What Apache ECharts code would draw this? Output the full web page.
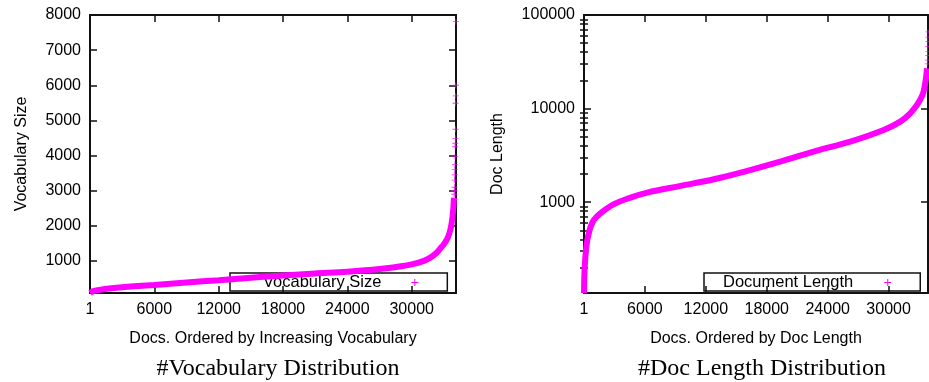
<!DOCTYPE html>
<html>
<head>
<meta charset="utf-8">
<script src="https://cdn.jsdelivr.net/npm/echarts@6/dist/echarts.min.js"></script>
<style>
  html, body { margin: 0; padding: 0; background: #fff; }
  #chart { width: 929px; height: 382px; }
</style>
</head>
<body>
<div id="chart"></div>
<script>
// left panel: docs ordered by vocabulary size
const vocabDocs     = [1, 300, 1000, 2000, 3000, 4500, 6000, 9000, 12000, 15000, 18000, 21000, 24000, 27000, 29000, 30000, 31000, 31700, 32300, 32700, 33000, 33300, 33500, 33650, 33780, 33880, 33940]
const vocabSize     = [92, 140, 185, 225, 255, 290, 320, 390, 455, 525, 590, 645, 695, 770, 850, 905, 990, 1090, 1230, 1370, 1480, 1620, 1780, 1950, 2200, 2500, 2800]
const vocabTailDocs = [33960, 33975, 33990, 34000, 34010, 34020, 34030, 34040, 34050, 34060, 34070, 34080, 34090, 34100, 34110, 34120]
const vocabTailSize = [2900, 3000, 3100, 3300, 3450, 3600, 3750, 3970, 4250, 4350, 4490, 4750, 5490, 5700, 6000, 7810]

// right panel: docs ordered by length
const lenDocs     = [1, 40, 100, 200, 330, 500, 660, 980, 1640, 2950, 4590, 6230, 9510, 12790, 16000, 19660, 22950, 26230, 29510, 31150, 32130, 32790, 33200, 33440, 33600, 33700, 33780]
const lenSize     = [107, 170, 230, 310, 396, 480, 549, 647, 763, 952, 1120, 1266, 1493, 1758, 2150, 2780, 3550, 4430, 5900, 7260, 8900, 10900, 13000, 15100, 18500, 21900, 27000]
const lenTailDocs = [33810, 33820, 33830, 33840, 33850, 33860, 33870, 33880, 33890]
const lenTailSize = [30000, 33000, 37000, 41000, 46000, 52000, 58000, 66000, 74000]

// axis ticks
const xTicks     = [0, 6000, 12000, 18000, 24000, 30000]
const vocabTicks = [1000, 2000, 3000, 4000, 5000, 6000, 7000, 8000]
const lenTicks   = [1000, 10000, 100000]

// gnuplot style minor ticks on the log axis (2..9 per decade)
const minorLenTicks = []
for (const d of [100, 1000, 10000]) for (let k = 2; k <= 9; k++) minorLenTicks.push(d * k)

const zip  = (xs, ys) => xs.map((x, i) => [x, ys[i]])
const PLUS = 'path://M3,0H4V7H3ZM0,3H7V4H0Z'
const MAGENTA = '#ff00ff'
const FONT = 'Liberation Sans'

const grids = [
  { left: 90, top: 15, width: 366, height: 278 },
  { left: 584, top: 15, width: 344, height: 278 },
]

const frameLine = { show: true, onZero: false, lineStyle: { color: '#111', width: 2 } }
const tick = (vals, len) => ({ show: true, inside: true, length: len || 7, customValues: vals, lineStyle: { color: '#111', width: 1.5 } })

function xAxis(grid, max, name, top) {
  return {
    type: 'value', gridIndex: grid, min: 0, max,
    position: top ? 'top' : 'bottom',
    name: top ? '' : name, nameLocation: 'middle', nameGap: 38,
    nameTextStyle: { fontFamily: FONT, fontSize: 16, color: '#000' },
    axisLine: frameLine,
    axisTick: tick(xTicks),
    axisLabel: {
      show: !top, margin: 9, customValues: xTicks,
      fontFamily: FONT, fontSize: 16, color: '#000',
      formatter: v => v === 0 ? '1' : String(v),
    },
    splitLine: { show: false },
  }
}

function yAxis(grid, type, min, max, ticks, right, opts) {
  opts = opts || {}
  return {
    type, gridIndex: grid, min, max,
    position: right ? 'right' : 'left',
    name: right ? '' : opts.name, nameLocation: 'middle', nameGap: opts.nameGap,
    nameTextStyle: { fontFamily: FONT, fontSize: 16, color: '#000' },
    axisLine: opts.noLine ? { show: false } : frameLine,
    axisTick: tick(ticks, opts.tickLen),
    axisLabel: {
      show: !right && !opts.noLabel, margin: 9, customValues: ticks,
      fontFamily: FONT, fontSize: 16, color: '#000',
      formatter: v => String(v),
    },
    splitLine: { show: false },
  }
}

const legendText = (padRight) => ({ fontFamily: FONT, fontSize: 16.5, lineHeight: 16, color: '#000', padding: [0, padRight, 0, 0] })
const titleText  = { fontFamily: 'Liberation Serif', fontSize: 24, fontWeight: 'normal', color: '#000' }

const option = {
  animation: false,
  backgroundColor: '#fff',
  grid: grids,
  title: [
    { text: '#Vocabulary Distribution', left: 273, top: 352, textAlign: 'center', textStyle: titleText },
    { text: '#Doc Length Distribution', left: 757, top: 352, textAlign: 'center', textStyle: titleText },
  ],
  legend: [
    {
      data: [{ name: 'Vocabulary Size', icon: PLUS }],
      left: 230, top: 273, align: 'right', z: 1,
      padding: [1, 29, 0, 33], itemWidth: 7, itemHeight: 7,
      borderColor: '#111', borderWidth: 1.5, selectedMode: false,
      textStyle: legendText(25),
    },
    {
      data: [{ name: 'Document Length', icon: PLUS }],
      left: 704, top: 273, align: 'right', z: 1,
      padding: [1, 29, 0, 19], itemWidth: 7, itemHeight: 7,
      borderColor: '#111', borderWidth: 1.5, selectedMode: false,
      textStyle: legendText(26),
    },
  ],
  xAxis: [
    xAxis(0, 34130, 'Docs. Ordered by Increasing Vocabulary', false),
    xAxis(0, 34130, '', true),
    xAxis(1, 33880, 'Docs. Ordered by Doc Length', false),
    xAxis(1, 33880, '', true),
  ],
  yAxis: [
    yAxis(0, 'value', 90, 8000, vocabTicks, false, { name: 'Vocabulary Size', nameGap: 60 }),
    yAxis(0, 'value', 90, 8000, vocabTicks, true),
    yAxis(1, 'log', 107, 100000, lenTicks, false, { name: 'Doc Length', nameGap: 78 }),
    yAxis(1, 'log', 107, 100000, lenTicks, true),
    yAxis(1, 'log', 107, 100000, minorLenTicks, false, { noLine: true, noLabel: true, tickLen: 4 }),
    yAxis(1, 'log', 107, 100000, minorLenTicks, true, { noLine: true, tickLen: 4 }),
  ],
  series: [
    {
      name: 'Vocabulary Size', type: 'line', xAxisIndex: 0, yAxisIndex: 0,
      data: zip(vocabDocs, vocabSize), showSymbol: false, symbol: 'none',
      smooth: 0.35, z: 2,
      lineStyle: { color: MAGENTA, width: 6 }, itemStyle: { color: MAGENTA },
    },
    {
      name: 'Vocabulary Size', type: 'scatter', xAxisIndex: 0, yAxisIndex: 0,
      data: zip(vocabTailDocs, vocabTailSize), symbol: PLUS, symbolSize: 6, z: 2,
      itemStyle: { color: MAGENTA },
    },
    {
      name: 'Document Length', type: 'line', xAxisIndex: 2, yAxisIndex: 2,
      data: zip(lenDocs, lenSize), showSymbol: false, symbol: 'none',
      smooth: 0.35, z: 2,
      lineStyle: { color: MAGENTA, width: 6 }, itemStyle: { color: MAGENTA },
    },
    {
      name: 'Document Length', type: 'scatter', xAxisIndex: 2, yAxisIndex: 2,
      data: zip(lenTailDocs, lenTailSize), symbol: PLUS, symbolSize: 5, z: 2,
      itemStyle: { color: MAGENTA },
    },
  ],
}

const chart = echarts.init(document.getElementById('chart'), null, { renderer: 'canvas' })
chart.setOption(option)
</script>
</body>
</html>
